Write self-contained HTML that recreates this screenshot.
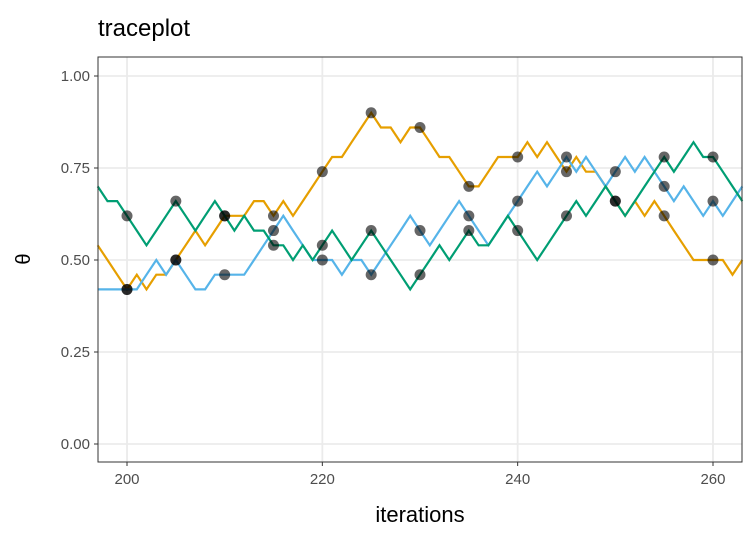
<!DOCTYPE html>
<html><head><meta charset="utf-8"><style>
body{margin:0;background:#fff;font-family:"Liberation Sans",sans-serif}
</style></head><body>
<svg id="chart" width="756" height="540" xmlns="http://www.w3.org/2000/svg">
<text x="98" y="36" font-size="24" fill="#000">traceplot</text>
<g id="grid"></g><g id="series"></g><g id="axes"></g>
<rect x="98" y="57" width="644" height="405" fill="none" stroke="#333" stroke-width="1"/>
<text x="420" y="522" font-size="22" text-anchor="middle">iterations</text>
<text transform="translate(30,259) rotate(-90)" font-size="20" text-anchor="middle">θ</text>
</svg>
<script>
const iterStart = 197;
const xTicks = [200, 220, 240, 260];
const yTicks = [0, 0.25, 0.5, 0.75, 1];
const yTickLabels = ["0.00", "0.25", "0.50", "0.75", "1.00"];
const chainNames = ["chain-1", "chain-2", "chain-3"];
const chainColors = ["#E69F00", "#56B4E9", "#009E73"];
const orangeValues = [0.54,0.50,0.46,0.42,0.46,0.42,0.46,0.46,0.50,0.54,0.58,0.54,0.58,0.62,0.62,0.62,0.66,0.66,0.62,0.66,0.62,0.66,0.70,0.74,0.78,0.78,0.82,0.86,0.90,0.86,0.86,0.82,0.86,0.86,0.82,0.78,0.78,0.74,0.70,0.70,0.74,0.78,0.78,0.78,0.82,0.78,0.82,0.78,0.74,0.78,0.74,0.74,0.70,0.66,0.62,0.66,0.62,0.66,0.62,0.58,0.54,0.50,0.50,0.50,0.50,0.46,0.50];
const blueValues = [0.42,0.42,0.42,0.42,0.42,0.46,0.50,0.46,0.50,0.46,0.42,0.42,0.46,0.46,0.46,0.46,0.50,0.54,0.58,0.62,0.58,0.54,0.50,0.50,0.50,0.46,0.50,0.50,0.46,0.50,0.54,0.58,0.62,0.58,0.54,0.58,0.62,0.66,0.62,0.58,0.54,0.58,0.62,0.66,0.70,0.74,0.70,0.74,0.78,0.74,0.78,0.74,0.70,0.74,0.78,0.74,0.78,0.74,0.70,0.66,0.70,0.66,0.62,0.66,0.62,0.66,0.70];
const greenValues = [0.70,0.66,0.66,0.62,0.58,0.54,0.58,0.62,0.66,0.62,0.58,0.62,0.66,0.62,0.58,0.62,0.58,0.58,0.54,0.54,0.50,0.54,0.50,0.54,0.58,0.54,0.50,0.54,0.58,0.54,0.50,0.46,0.42,0.46,0.50,0.54,0.50,0.54,0.58,0.54,0.54,0.58,0.62,0.58,0.54,0.50,0.54,0.58,0.62,0.66,0.62,0.66,0.70,0.66,0.62,0.66,0.70,0.74,0.78,0.74,0.78,0.82,0.78,0.78,0.74,0.70,0.66];
const chains = [orangeValues, blueValues, greenValues];

const NS = "http://www.w3.org/2000/svg";
const X0=98, X1=742, Y0=57, Y1=462;
const xMin=197.03, xMax=262.97;
const xs = v => X0 + (v - xMin) / (xMax - xMin) * (X1 - X0);
const ys = v => 444 - v * 368;
function mk(tag, attrs, parent){const e=document.createElementNS(NS,tag);for(const k in attrs)e.setAttribute(k,attrs[k]);parent.appendChild(e);return e;}
const grid=document.getElementById('grid'), axes=document.getElementById('axes'), series=document.getElementById('series');
yTicks.forEach((t,i)=>{
  const l=mk('line',{x1:X0,x2:X1,y1:ys(t),y2:ys(t),stroke:'#ebebeb','stroke-width':1.8},grid);
  
  
  mk('line',{x1:X0-4,x2:X0,y1:ys(t),y2:ys(t),stroke:'#333','stroke-width':1},axes);
  const tx=mk('text',{x:X0-8,y:ys(t)+5,'font-size':15,fill:'#4d4d4d','text-anchor':'end'},axes);
  tx.textContent=yTickLabels[i];
  
  
});
xTicks.forEach(t=>{
  const l=mk('line',{x1:xs(t),x2:xs(t),y1:Y0,y2:Y1,stroke:'#ebebeb','stroke-width':1.8},grid);
  
  
  mk('line',{x1:xs(t),x2:xs(t),y1:Y1,y2:Y1+4,stroke:'#333','stroke-width':1},axes);
  const tx=mk('text',{x:xs(t),y:Y1+22,'font-size':15,fill:'#4d4d4d','text-anchor':'middle'},axes);
  tx.textContent=t;
  
  
});
chains.forEach((vals,c)=>{
  const pts=vals.map((v,i)=>xs(iterStart+i).toFixed(1)+','+ys(v).toFixed(1)).join(' ');
  const p=mk('polyline',{points:pts,fill:'none',stroke:chainColors[c],'stroke-width':2.2,'stroke-linejoin':'miter'},series);
  
  
});
chains.forEach((vals,c)=>{
  vals.forEach((v,i)=>{
    const it=iterStart+i;
    if(it%5!==0) return;
    const d=mk('circle',{cx:xs(it),cy:ys(v),r:5.5,fill:'#000','fill-opacity':0.6},series);
    
    
  });
});
</script>
</body></html>
